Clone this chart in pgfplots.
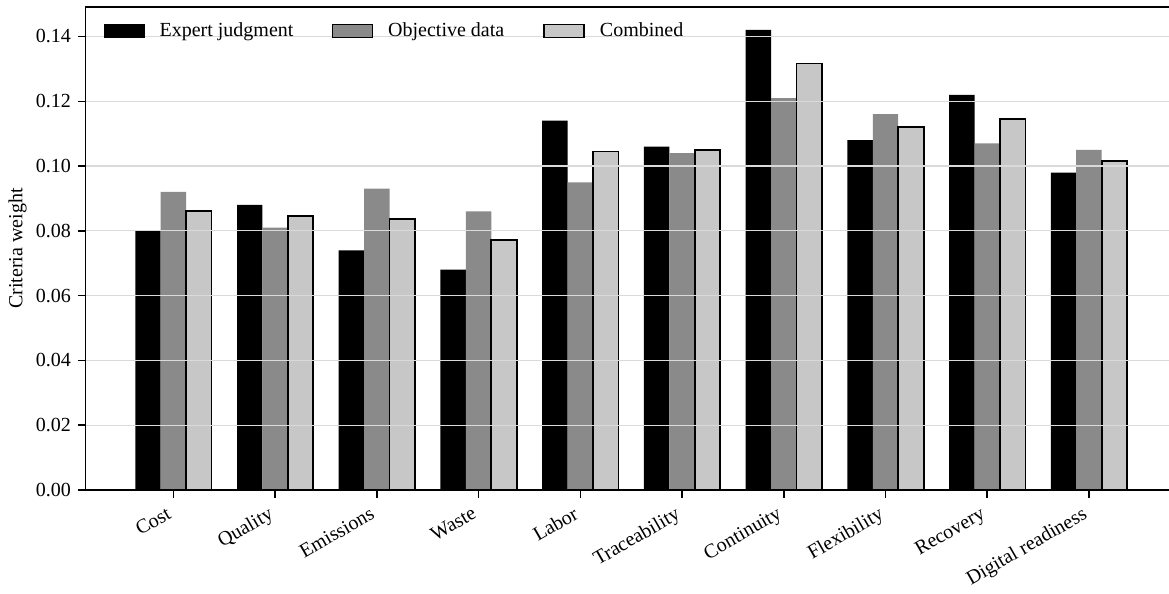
\documentclass[border=0pt]{standalone}
\usepackage{pgfplots}
\pgfplotsset{compat=1.18}
\usepackage{fontspec}
\setmainfont{Liberation Serif}
\definecolor{cgray}{RGB}{138,138,138}
\definecolor{clight}{RGB}{199,199,199}
\definecolor{cgrid}{RGB}{218,218,218}
\begin{document}
\begin{tikzpicture}
\begin{axis}[
  at={(0,0)}, anchor=south west,
  scale only axis,
  width=545.5pt, height=241.5pt,
  xmin=-0.8625, xmax=9.8625,
  ymin=0, ymax=0.1491,
  ybar, bar width=0.25,
  axis on top,
  ymajorgrids,
  grid style={color=cgrid, line width=0.6pt},
  axis line style={line width=0.75pt},
  tick pos=left,
  tick align=outside,
  major tick length=3.85pt,
  tick style={line width=0.75pt, black},
  xtick={0,1,2,3,4,5,6,7,8,9},
  xticklabels={Cost,Quality,Emissions,Waste,Labor,Traceability,Continuity,Flexibility,Recovery,Digital readiness},
  xticklabel style={xshift=-3.5pt, yshift=-2.5pt, rotate=30, anchor=north east, font=\fontsize{10}{12}\selectfont, inner sep=1pt},
  ytick={0,0.02,0.04,0.06,0.08,0.10,0.12,0.14},
  yticklabel style={font=\fontsize{10}{12}\selectfont},
  /pgf/number format/.cd, fixed, fixed zerofill, precision=2, assume math mode=true,
  /pgfplots/.cd,
  scaled y ticks=false,
  ylabel={Criteria weight},
  ylabel style={at={(axis description cs:-0.0625,0.5)}, anchor=center, rotate=0, font=\fontsize{10}{12}\selectfont},
  legend columns=3,
  legend style={draw=none, fill=none, at={(axis description cs:0.0107,0.981)}, anchor=north west,
    font=\fontsize{10}{12}\selectfont,
    /tikz/every odd column/.append style={column sep=6.5pt},
    /tikz/every even column/.append style={column sep=18.5pt},
    nodes={inner sep=1pt}},
  legend image code/.code={\draw[#1] (0pt,-3.3pt) rectangle (20pt,3.3pt);},
]
\addplot[fill=black, draw=none, bar shift=-0.25] coordinates {
 (0,0.080) (1,0.088) (2,0.074) (3,0.068) (4,0.114) (5,0.106) (6,0.142) (7,0.108) (8,0.122) (9,0.098)};
\addplot[fill=cgray, draw=none, bar shift=0] coordinates {
 (0,0.092) (1,0.081) (2,0.093) (3,0.086) (4,0.095) (5,0.104) (6,0.121) (7,0.116) (8,0.107) (9,0.105)};
\addplot[fill=clight, draw=black, line width=0.85pt, bar shift=0.25] coordinates {
 (0,0.0861) (1,0.0846) (2,0.0836) (3,0.0772) (4,0.1045) (5,0.1050) (6,0.1317) (7,0.1121) (8,0.1146) (9,0.1015)};
\legend{Expert judgment, Objective data, Combined}
\end{axis}
\pgfresetboundingbox
\useasboundingbox (-42.85pt,-52pt) rectangle (541.65pt,245pt);
\end{tikzpicture}
\end{document}
